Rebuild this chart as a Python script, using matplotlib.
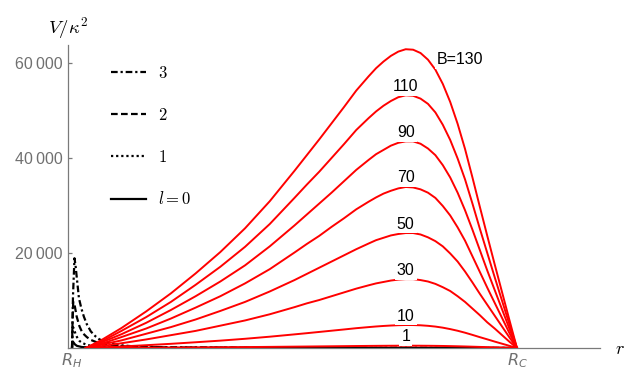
import matplotlib
matplotlib.use("Agg")
import matplotlib.pyplot as plt
from matplotlib.font_manager import FontProperties
from matplotlib.ticker import FuncFormatter

# horizon radii (event horizon R_H, cosmological horizon R_C)
r_h = 1.0
r_c = 10.0

# magnetic potential curves, one row per field strength B
b_values = [130, 110, 90, 70, 50, 30, 10, 1]
r_b = [1.28, 1.6, 2.0, 2.5, 3.0, 3.5, 4.0, 4.5, 5.0, 5.5, 5.75, 6.0, 6.25, 6.5,
       6.75, 7.0, 7.15, 7.3, 7.45, 7.6, 7.75, 7.9, 8.05, 8.2, 8.35, 8.5, 8.65,
       8.8, 8.95, 9.1, 9.25, 9.4, 9.55, 9.7, 9.85, 10.0]
v_b130 = [0, 1700, 4200, 7700, 11500, 15700, 20200, 25200, 30900, 37300, 40600,
          43900, 47300, 50700, 54200, 57200, 58900, 60300, 61500, 62400, 62900,
          62800, 62100, 60700, 58600, 55600, 51800, 47200, 41900, 35900, 29700,
          23600, 17600, 11700, 5800, 0]
v_b110 = [0, 1400, 3600, 6500, 9700, 13300, 17100, 21300, 26100, 31600, 34400,
          37100, 40000, 42900, 45900, 48400, 49800, 51000, 52000, 52800, 53200,
          53100, 52500, 51400, 49600, 47000, 43800, 39900, 35500, 30400, 25100,
          20000, 14900, 9900, 4900, 0]
v_b90 = [0, 1200, 2900, 5300, 8000, 10900, 14000, 17400, 21400, 25800, 28100,
         30400, 32700, 35100, 37500, 39600, 40800, 41700, 42600, 43200, 43500,
         43500, 43000, 42000, 40600, 38500, 35900, 32700, 29000, 24900, 20600,
         16300, 12200, 8100, 4000, 0]
v_b70 = [0, 900, 2300, 4100, 6200, 8500, 10900, 13600, 16600, 20100, 21900,
         23600, 25500, 27300, 29200, 30800, 31700, 32500, 33100, 33600, 33900,
         33800, 33400, 32700, 31600, 29900, 27900, 25400, 22600, 19300, 16000,
         12700, 9500, 6300, 3100, 0]
v_b50 = [0, 700, 1600, 3000, 4400, 6000, 7800, 9700, 11900, 14300, 15600,
         16900, 18200, 19500, 20800, 22000, 22700, 23200, 23700, 24000, 24200,
         24200, 23900, 23300, 22500, 21400, 19900, 18200, 16100, 13800, 11400,
         9100, 6800, 4500, 2200, 0]
v_b30 = [0, 400, 1000, 1800, 2700, 3600, 4700, 5800, 7100, 8600, 9400,
         10100, 10900, 11700, 12500, 13200, 13600, 13900, 14200, 14400, 14500,
         14500, 14300, 14000, 13500, 12800, 12000, 10900, 9700, 8300, 6900,
         5400, 4100, 2700, 1300, 0]
v_b10 = [0, 130, 320, 590, 880, 1210, 1550, 1940, 2380, 2870, 3120,
         3380, 3640, 3900, 4170, 4400, 4530, 4640, 4730, 4800, 4840,
         4830, 4780, 4670, 4510, 4280, 3980, 3630, 3220, 2760, 2280,
         1820, 1350, 900, 450, 0]
v_b1 = [0, 13, 32, 59, 88, 121, 155, 194, 238, 287, 312,
        338, 364, 390, 417, 440, 453, 464, 473, 480, 484,
        483, 478, 467, 451, 428, 398, 363, 322, 276, 228,
        182, 135, 90, 45, 0]
v_b = [v_b130, v_b110, v_b90, v_b70, v_b50, v_b30, v_b10, v_b1]

# angular-momentum potentials near the event horizon
r_l3 = [1.0, 1.02, 1.05, 1.07, 1.1, 1.14, 1.19, 1.24, 1.3, 1.38, 1.47, 1.55,
        1.7, 1.9, 2.3, 3.0, 5.0, 10.0]
v_l3 = [0, 11000, 18900, 17500, 14500, 10500, 8300, 6600, 5000, 3500, 2500, 1850,
        1150, 650, 300, 120, 50, 0]
r_l2 = [1.0, 1.012, 1.025, 1.05, 1.095, 1.15, 1.21, 1.3, 1.38, 1.55, 1.8, 2.2,
        3.0, 5.0, 10.0]
v_l2 = [0, 6000, 9700, 9200, 6600, 4600, 3200, 2300, 1700, 1000, 500, 250,
        100, 40, 0]
r_l1 = [1.0, 1.01, 1.02, 1.04, 1.07, 1.1, 1.15, 1.2, 1.3, 1.45, 1.7, 2.2, 3.0, 10.0]
v_l1 = [0, 3000, 4400, 4000, 3000, 2300, 1500, 1100, 650, 350, 170, 80, 40, 0]
r_l0 = [1.0, 1.008, 1.018, 1.035, 1.06, 1.1, 1.2, 1.4, 2.0, 10.0]
v_l0 = [0, 1000, 1350, 1100, 750, 450, 200, 80, 20, 0]
l_labels = ["$l=0$", "$1$", "$2$", "$3$"]

y_ticks = [20000, 40000, 60000]

gray = "#7a7a7a"
label_gray = "#707070"

fig = plt.figure(figsize=(6.31, 3.70), dpi=100)
ax = fig.add_axes([68 / 631, 22 / 370, 532 / 631, 303 / 370])

styles = ["-", (0, (1, 1.3)), (0, (3, 1.5)), (0, (3, 1.3, 1, 1.3))]
handles = []
for rr, vv, ls, lab in zip([r_l0, r_l1, r_l2, r_l3], [v_l0, v_l1, v_l2, v_l3], styles, l_labels):
    h, = ax.plot(rr, vv, color="black", lw=1.6, ls=ls, label=lab)
    handles.append(h)

for b, vv in zip(b_values, v_b):
    ax.plot(r_b, vv, color="#ff0000", lw=1.4, zorder=3)

# curve labels sit just above each maximum
for i, (b, vv) in enumerate(zip(b_values, v_b)):
    k = vv.index(max(vv))
    if i == 0:
        txt, off = "B=%d" % b, (54, -10)
    else:
        txt, off = "%d" % b, (0, 9)
    ax.annotate(txt, xy=(r_b[k], vv[k]), xytext=off, textcoords="offset pixels",
                ha="center", va="center", fontsize=11.5, family="Liberation Sans",
                bbox=dict(boxstyle="square,pad=0.12", fc="white", ec="none"),
                zorder=4)

ax.set_xlim(0.919, 11.68)
ax.set_ylim(0, 63790)

for side in ["top", "right"]:
    ax.spines[side].set_visible(False)
for side in ["left", "bottom"]:
    ax.spines[side].set_color(gray)
    ax.spines[side].set_linewidth(0.9)

ax.set_yticks(y_ticks)
ax.yaxis.set_major_formatter(FuncFormatter(lambda v, p: "{:,.0f}".format(v).replace(",", "\u2009")))
ax.tick_params(axis="y", direction="in", length=3, width=0.9, color=gray,
               labelcolor=label_gray, labelsize=11.5, pad=4)
for t in ax.get_yticklabels():
    t.set_family(["Liberation Sans", "DejaVu Sans"])

ax.set_xticks([r_h, r_c], ["$R_H$", "$R_C$"])
ax.tick_params(axis="x", length=0, labelcolor=label_gray, labelsize=11.5, pad=2.5)

ax.set_ylabel("$V/\\kappa^2$", rotation=0, ha="center", va="center",
              fontsize=13.5, math_fontfamily="cm")
ax.yaxis.set_label_coords(0.0, 1.057)
ax.set_xlabel("$r$", ha="center", va="center", fontsize=13, math_fontfamily="cm")
ax.xaxis.set_label_coords(1.0376, -0.003)

leg = ax.legend(handles[::-1], l_labels[::-1], loc="upper left",
                bbox_to_anchor=(111 / 631, 1 - 64 / 370), bbox_transform=fig.transFigure,
                frameon=False, borderpad=0, borderaxespad=0, handlelength=2.1,
                handletextpad=0.7, labelspacing=1.45,
                prop=FontProperties(size=12, math_fontfamily="cm"))

fig.savefig("out.png", dpi=100)
